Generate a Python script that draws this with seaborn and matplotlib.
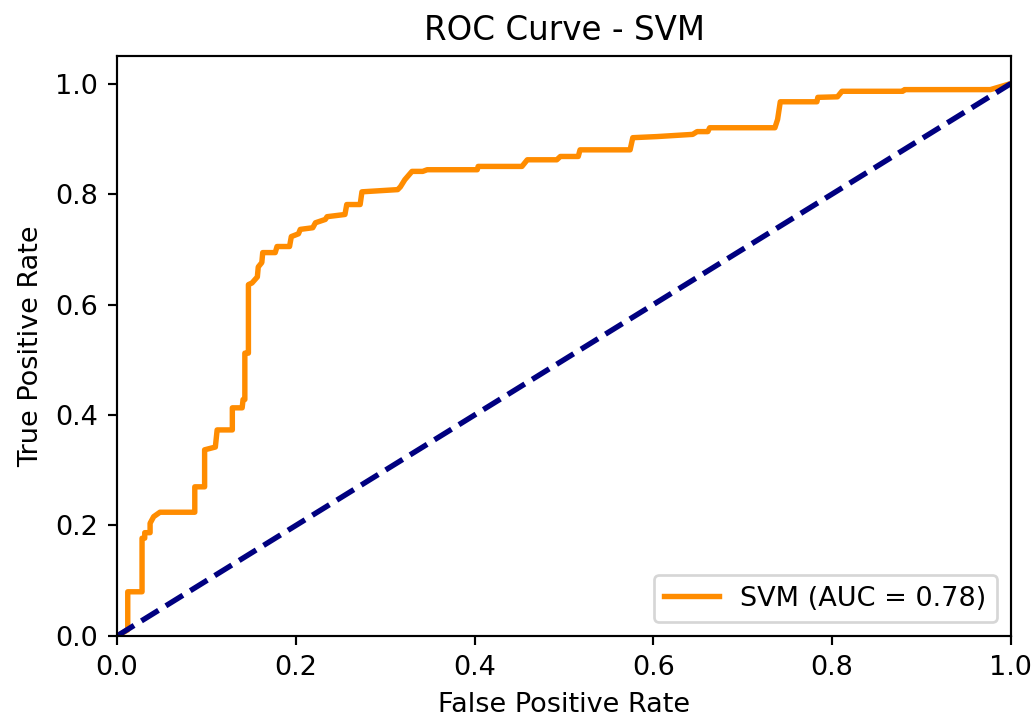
import matplotlib
matplotlib.use("Agg")
import matplotlib.pyplot as plt
import seaborn as sns
import pandas as pd

model_name = "SVM"
auc_value = 0.78

fpr = [0.000, 0.012, 0.012, 0.028, 0.028, 0.031, 0.031, 0.037, 0.037, 0.041,
       0.048, 0.087, 0.087, 0.098, 0.098, 0.110, 0.112, 0.129, 0.129, 0.140,
       0.141, 0.143, 0.143, 0.147, 0.147, 0.151, 0.157, 0.158, 0.162, 0.163,
       0.177, 0.179, 0.193, 0.195, 0.203, 0.205, 0.219, 0.222, 0.233, 0.235,
       0.255, 0.257, 0.272, 0.274, 0.314, 0.317, 0.322, 0.330, 0.342, 0.347,
       0.403, 0.404, 0.453, 0.459, 0.492, 0.496, 0.516, 0.518, 0.574, 0.577,
       0.604, 0.644, 0.649, 0.661, 0.663, 0.736, 0.739, 0.742, 0.783, 0.784,
       0.806, 0.811, 0.879, 0.881, 0.977, 1.000]
tpr = [0.000, 0.011, 0.080, 0.080, 0.177, 0.177, 0.187, 0.187, 0.204, 0.216,
       0.224, 0.224, 0.270, 0.270, 0.337, 0.342, 0.373, 0.373, 0.413, 0.413,
       0.428, 0.428, 0.512, 0.512, 0.636, 0.639, 0.650, 0.668, 0.676, 0.694,
       0.694, 0.705, 0.705, 0.723, 0.728, 0.736, 0.739, 0.748, 0.754, 0.759,
       0.763, 0.781, 0.781, 0.804, 0.808, 0.813, 0.826, 0.841, 0.841, 0.844,
       0.844, 0.850, 0.850, 0.862, 0.862, 0.868, 0.868, 0.880, 0.880, 0.902,
       0.904, 0.908, 0.913, 0.913, 0.920, 0.920, 0.935, 0.967, 0.967, 0.975,
       0.976, 0.986, 0.986, 0.989, 0.989, 1.000]
diag = [0.0, 1.0]

df = pd.DataFrame({"fpr": fpr, "tpr": tpr})
dd = pd.DataFrame({"x": diag, "y": diag})

DPI = 195
fig = plt.figure(figsize=(1031/DPI, 717/DPI), dpi=DPI)
ax = fig.add_axes([0.1135, 0.113, 0.867, 0.809])

sns.lineplot(data=df, x="fpr", y="tpr", sort=False, estimator=None,
             color="darkorange", lw=2,
             label=f"{model_name} (AUC = {auc_value:.2f})", ax=ax)
sns.lineplot(data=dd, x="x", y="y", sort=False, estimator=None,
             color="navy", lw=2, linestyle="--", ax=ax)

ax.set_xlim(0.0, 1.0)
ax.set_ylim(0.0, 1.05)
ax.set_xlabel("False Positive Rate")
ax.set_ylabel("True Positive Rate")
ax.set_title(f"ROC Curve - {model_name}")
ax.legend(loc="lower right")

fig.savefig("out.png", dpi=DPI)
